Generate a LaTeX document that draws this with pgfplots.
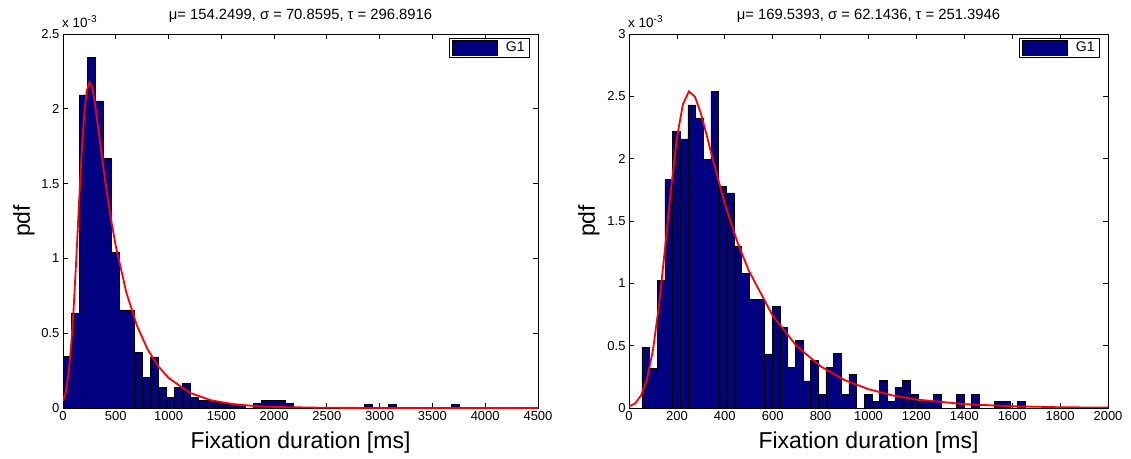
\documentclass[border=0pt]{standalone}
\usepackage{fontspec}
\setmainfont{Liberation Sans}
\usepackage{pgfplots}
\pgfplotsset{compat=1.18}
\definecolor{barnavy}{RGB}{0,0,128}
\pgfplotsset{
 histstyle/.style={
  scale only axis,
  height=374bp,
  ymin=0,
  clip mode=individual,
  tick align=inside,
  major tick length=5bp,
  axis line style={line width=0.8bp},
  every tick/.style={black,line width=0.8bp},
  /pgf/number format/assume math mode=true,
  /pgf/number format/1000 sep={},
  scaled ticks=false,
  tick label style={font=\fontsize{13bp}{15bp}\selectfont},
  xlabel={Fixation duration [ms]},
  ylabel={pdf},
  label style={font=\fontsize{23bp}{27bp}\selectfont},
  xlabel style={at={(axis description cs:0.5,-0.1096)},anchor=base},
  title style={at={(axis description cs:0.5,1)},anchor=base,yshift=8.5bp,font=\fontsize{14.8bp}{17bp}\selectfont},
  legend style={at={(axis description cs:1,1)},anchor=north east,xshift=-8bp,yshift=-4bp,draw=black,fill=white,line width=0.8bp,font=\fontsize{14bp}{16bp}\selectfont,inner xsep=3bp,inner ysep=1.5bp},
  legend image code/.code={\draw[fill=barnavy,draw=black,line width=0.6bp] (0bp,-7.5bp) rectangle (45bp,7.5bp);},
 }
}
\begin{document}
\begin{tikzpicture}
\useasboundingbox (-63bp,-51bp) rectangle (1068bp,408bp);
% ---------------- left ----------------
\begin{axis}[histstyle,
  at={(0bp,0bp)},anchor=south west,
  width=475bp,
  xmin=0,xmax=4500,ymax=2.5,
  xtick={0,500,...,4500},
  ytick={0,0.5,1,1.5,2,2.5},
  ylabel style={at={(axis description cs:-0.0821,0.5)},anchor=center},
  title={μ= 154.2499, σ = 70.8595, τ = 296.8916}]
\addplot[ybar interval,fill=barnavy,draw=black,line width=0.6bp] coordinates {
(5,0.344) (80,0.636) (155,2.093) (230,2.344) (305,2.053) (380,1.671)
(455,1.038) (530,0.656) (605,0.656) (680,0.369) (755,0.204) (830,0.342)
(905,0.138) (980,0.073) (1055,0.138) (1130,0.162) (1205,0.071) (1280,0.051)
(1355,0.051) (1430,0.040) (1505,0.030) (1580,0.027) (1655,0.018) (1730,0)
(1805,0.030) (1880,0.053) (1955,0.053) (2030,0.053) (2105,0.030) (2180,0)
(2255,0) (2330,0) (2405,0) (2480,0) (2555,0) (2630,0) (2705,0) (2780,0)
(2855,0.022) (2930,0) (3005,0) (3080,0.022) (3155,0) (3230,0) (3305,0)
(3380,0) (3455,0) (3530,0) (3605,0) (3680,0.022) (3755,0)};
\addlegendentry{\hspace{6bp}G1\hspace{1bp}}
\addplot[red,line width=1.8bp,forget plot] coordinates {
(0,0.046) (25,0.105) (50,0.215) (75,0.396) (100,0.656) (125,0.984)
(150,1.345) (175,1.686) (200,1.955) (225,2.120) (250,2.177) (275,2.143)
(300,2.048) (350,1.782) (400,1.514) (450,1.280) (500,1.082) (600,0.772)
(700,0.551) (800,0.394) (900,0.281) (1000,0.201) (1200,0.102) (1400,0.052)
(1600,0.027) (1800,0.014) (2000,0.007) (2500,0.0013) (3000,0.0002) (4500,0)};
\node[anchor=base west,inner sep=0pt,font=\fontsize{13.5bp}{15bp}\selectfont] at ([xshift=-1bp,yshift=6bp]rel axis cs:0,1) {x 10\raisebox{0.8ex}{\fontsize{10bp}{11bp}\selectfont -3}};
\end{axis}
% ---------------- right ----------------
\begin{axis}[histstyle,
  at={(566bp,0bp)},anchor=south west,
  width=479bp,
  xmin=0,xmax=2000,ymax=3,
  xtick={0,200,...,2000},
  ytick={0,0.5,1,1.5,2,2.5,3},
  ylabel style={at={(axis description cs:-0.0835,0.5)},anchor=center},
  title={μ= 169.5393, σ = 62.1436, τ = 251.3946}]
\addplot[ybar interval,fill=barnavy,draw=black,line width=0.6bp] coordinates {
(54,0.487) (86,0.32) (118,1.026) (150,1.833) (182,2.22) (214,2.159)
(246,2.431) (278,2.323) (310,1.997) (342,2.54) (374,1.78) (406,1.725)
(438,1.30) (470,1.077) (502,0.868) (534,0.868) (566,0.434) (598,0.815)
(630,0.648) (662,0.323) (694,0.54) (726,0.217) (758,0.384) (790,0.111)
(822,0.323) (854,0.437) (886,0.111) (918,0.27) (950,0) (982,0.111)
(1014,0.055) (1046,0.222) (1078,0.055) (1110,0.166) (1142,0.222) (1174,0.111)
(1206,0.055) (1238,0.055) (1270,0.111) (1302,0) (1334,0) (1366,0.111)
(1398,0) (1430,0.111) (1462,0) (1494,0) (1526,0.055) (1558,0.055)
(1590,0) (1622,0.055) (1654,0)};
\addlegendentry{\hspace{6bp}G1\hspace{1bp}}
\addplot[red,line width=1.8bp,forget plot] coordinates {
(0,0.012) (25,0.037) (50,0.099) (75,0.230) (100,0.465) (125,0.820)
(150,1.273) (175,1.753) (200,2.166) (225,2.436) (250,2.539) (275,2.498)
(300,2.363) (325,2.183) (350,1.993) (400,1.639) (450,1.344) (500,1.102)
(600,0.740) (700,0.497) (800,0.334) (900,0.224) (1000,0.151) (1100,0.101)
(1200,0.068) (1400,0.031) (1600,0.014) (1800,0.006) (2000,0.003)};
\node[anchor=base west,inner sep=0pt,font=\fontsize{13.5bp}{15bp}\selectfont] at ([xshift=-1bp,yshift=6bp]rel axis cs:0,1) {x 10\raisebox{0.8ex}{\fontsize{10bp}{11bp}\selectfont -3}};
\end{axis}
\end{tikzpicture}
\end{document}
